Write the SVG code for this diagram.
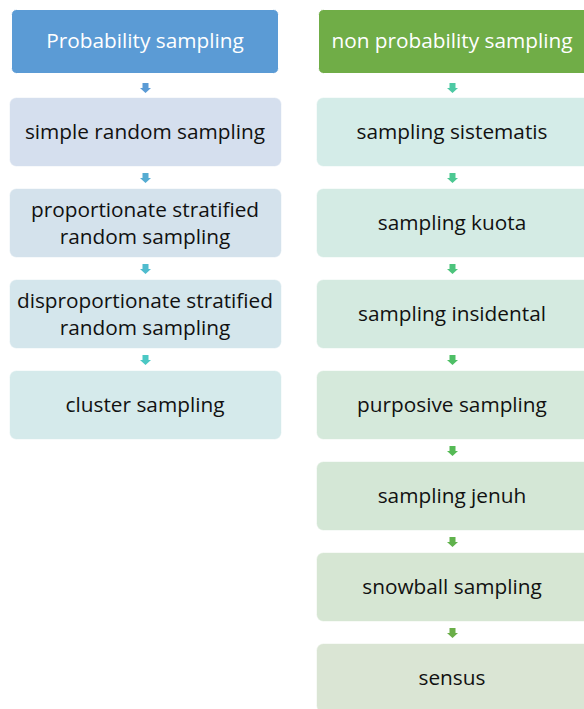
<svg xmlns="http://www.w3.org/2000/svg" width="584" height="709" viewBox="0 0 584 709">
  <style>
    .hdr { stroke: #ffffff; stroke-width: 1; }
    .box { stroke: #ffffff; stroke-opacity: 0.6; stroke-width: 1; }
    text { font-family: "Open Sans", "Liberation Sans", sans-serif; font-size: 20.8px; text-anchor: middle; fill: #111111; font-variant-ligatures: none; }
    .ht { fill: #ffffff; }
  </style>
  <defs>
    <!-- down block arrow, centred on 0, 0..10 tall -->
    <path id="dn" d="M-3,0 H3 V5 H5.5 L0,10 L-5.5,5 H-3 Z"/>
  </defs>
  <rect width="584" height="709" fill="#ffffff"/>

  <!-- left column -->
  <g id="prob-header">
    <rect class="hdr" x="11.5" y="9.5" width="267" height="64" rx="5" fill="#5B9BD5"/>
    <text class="ht" x="145" y="48">Probability sampling</text>
  </g>
  <g id="simple-random">
    <rect class="box" x="9.5" y="97.5" width="272" height="69" rx="7" fill="#D5DFEE"/>
    <text x="145" y="139">simple random sampling</text>
  </g>
  <g id="proportionate">
    <rect class="box" x="9.5" y="188.5" width="272" height="69" rx="7" fill="#D4E2EC"/>
    <text x="145" y="217">proportionate stratified</text>
    <text x="145" y="244">random sampling</text>
  </g>
  <g id="disproportionate">
    <rect class="box" x="9.5" y="279.5" width="272" height="69" rx="7" fill="#D4E6EC"/>
    <text x="145" y="308">disproportionate stratified</text>
    <text x="145" y="335">random sampling</text>
  </g>
  <g id="cluster">
    <rect class="box" x="9.5" y="370.5" width="272" height="69" rx="7" fill="#D5EAEB"/>
    <text x="145" y="412">cluster sampling</text>
  </g>

  <!-- right column -->
  <g id="nonprob-header">
    <rect class="hdr" x="318.5" y="9.5" width="272" height="64" rx="5" fill="#70AD47"/>
    <text class="ht" x="452" y="48">non probability sampling</text>
  </g>
  <g id="sistematis">
    <rect class="box" x="316.5" y="97.5" width="276" height="69" rx="7" fill="#D4ECE8"/>
    <text x="452" y="139">sampling sistematis</text>
  </g>
  <g id="kuota">
    <rect class="box" x="316.5" y="188.5" width="276" height="69" rx="7" fill="#D4EBE4"/>
    <text x="452" y="230">sampling kuota</text>
  </g>
  <g id="insidental">
    <rect class="box" x="316.5" y="279.5" width="276" height="69" rx="7" fill="#D4EAE0"/>
    <text x="452" y="321">sampling insidental</text>
  </g>
  <g id="purposive">
    <rect class="box" x="316.5" y="370.5" width="276" height="69" rx="7" fill="#D5E9DB"/>
    <text x="452" y="412">purposive sampling</text>
  </g>
  <g id="jenuh">
    <rect class="box" x="316.5" y="461.5" width="276" height="69" rx="7" fill="#D4E7D6"/>
    <text x="452" y="503">sampling jenuh</text>
  </g>
  <g id="snowball">
    <rect class="box" x="316.5" y="552.5" width="276" height="69" rx="7" fill="#D6E6D3"/>
    <text x="452" y="594">snowball sampling</text>
  </g>
  <g id="sensus">
    <rect class="box" x="316.5" y="643.5" width="276" height="69" rx="7" fill="#DAE5D4"/>
    <text x="452" y="685">sensus</text>
  </g>

  <!-- connectors -->
  <g id="connectors">
    <use href="#dn" x="145.5" y="83" fill="#5B9BD5"/>
    <use href="#dn" x="145.5" y="173" fill="#55ACD2"/>
    <use href="#dn" x="145.5" y="264" fill="#4FBCCE"/>
    <use href="#dn" x="145.5" y="355" fill="#4BC8C4"/>
    <use href="#dn" x="452.5" y="83" fill="#4DC9A4"/>
    <use href="#dn" x="452.5" y="173" fill="#4CC892"/>
    <use href="#dn" x="452.5" y="264" fill="#4CC47C"/>
    <use href="#dn" x="452.5" y="355" fill="#4EBF66"/>
    <use href="#dn" x="452.5" y="446" fill="#55BA55"/>
    <use href="#dn" x="452.5" y="537" fill="#60B24C"/>
    <use href="#dn" x="452.5" y="628" fill="#6AAE48"/>
  </g>
</svg>
